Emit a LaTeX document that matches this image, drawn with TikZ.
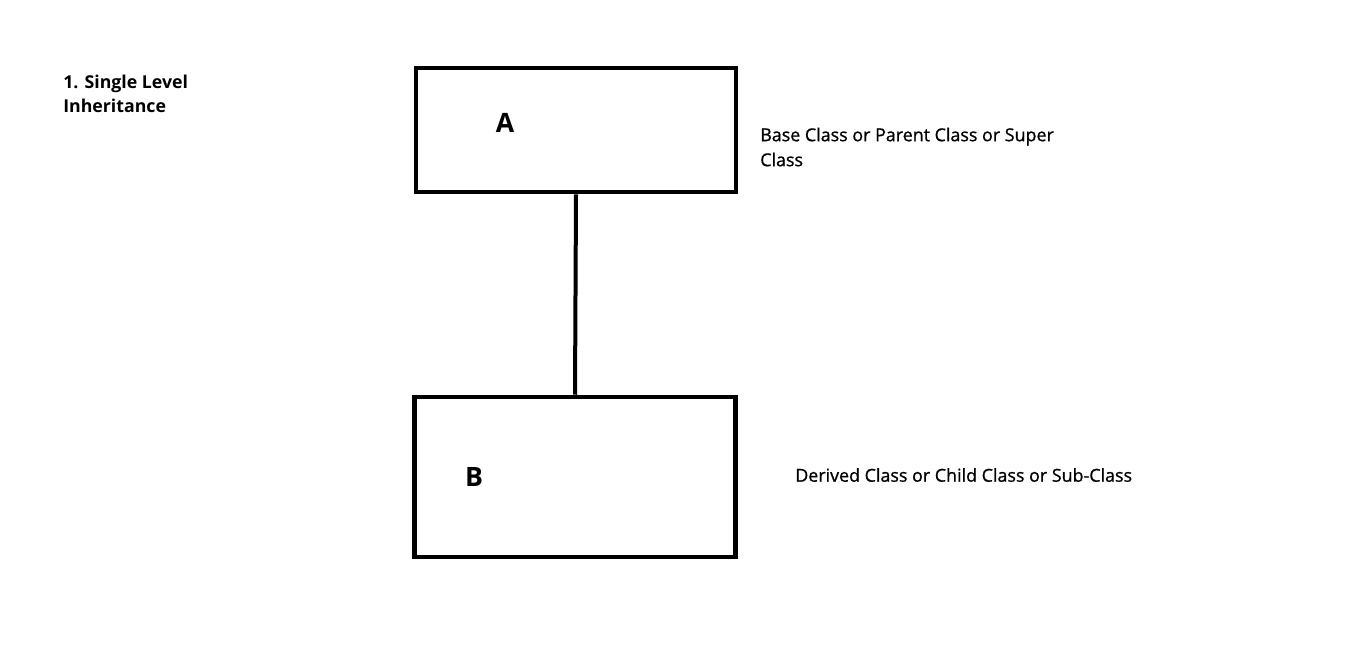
\documentclass[tikz,border=0pt]{standalone}
\usepackage{fontspec}
\setmainfont{Open Sans}
\newfontface\notefont{Open Sans}[RawFeature={embolden=0.9}]
\tikzset{
    classbox/.style={draw, line width=3.4pt, inner sep=0pt},
    classname/.style={font=\fontsize{20}{24}\selectfont\bfseries},
    classnote/.style={font=\notefont\fontsize{13.4}{18.75}\selectfont, anchor=west, align=left, inner sep=0pt}
}
\begin{document}
\begin{tikzpicture}[x=0.75pt, y=-0.75pt]
    \useasboundingbox (0,0) rectangle (1354,669);
    % Set up class positions
    \coordinate (parent) at (576,130);
    \coordinate (child) at (575,477);

    % Title
    \node[anchor=north west, align=left, inner sep=0pt, font=\fontsize{13.3}{18}\selectfont\bfseries] (title) at (63,75) {1. Single Level\\Inheritance};

    % Draw base class
    \node[classbox, minimum width=240pt, minimum height=93pt] (boxA) at (parent) {};
    \node[classname] (nameA) at (505,123) {A};
    \node[classnote] (noteA) at (760,147) {Base Class or Parent Class or Super\\Class};

    % Draw derived class
    \node[classbox, minimum width=240.5pt, minimum height=120pt] (boxB) at (child) {};
    \node[classname] (nameB) at (474,477) {B};
    \node[classnote] (noteB) at (795,475) {Derived Class or Child Class or Sub-Class};

    % Draw connection
    \draw[line width=3pt] (boxA.south) -- (boxB.north);
\end{tikzpicture}
\end{document}
